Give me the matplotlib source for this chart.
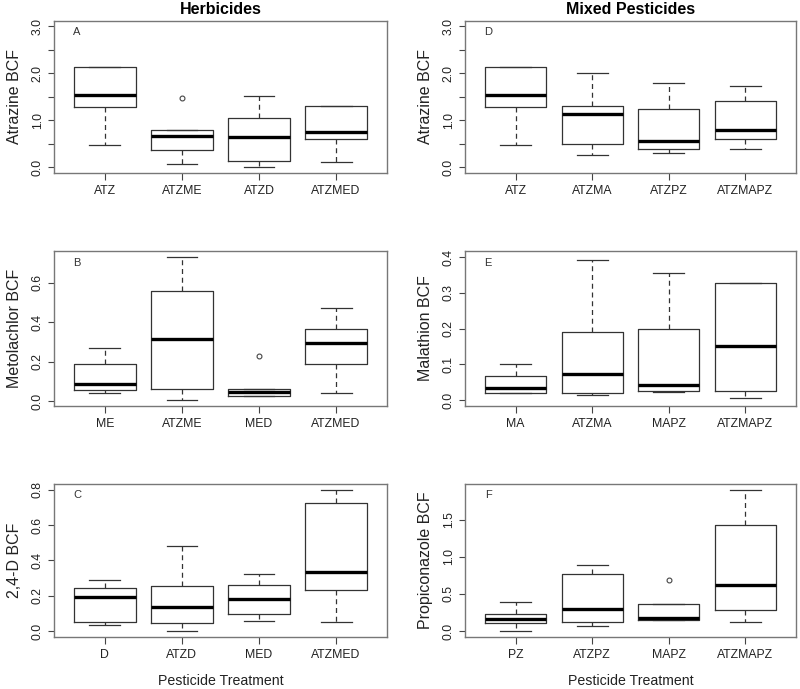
import numpy as np
import matplotlib
matplotlib.use("Agg")
import matplotlib.pyplot as plt

plt.rcParams['font.family'] = ['Liberation Sans', 'DejaVu Sans']

# ---- data (BCF box statistics) ----
# panel A: herbicides, atrazine
a_labels = ["ATZ", "ATZME", "ATZD", "ATZMED"]
a_lo = [0.47, 0.056, 0.007, 0.106]
a_q1 = [1.27, 0.367, 0.134, 0.60]
a_med = [1.545, 0.67, 0.635, 0.75]
a_q3 = [2.13, 0.79, 1.04, 1.30]
a_hi = [2.13, 0.79, 1.51, 1.30]
a_out = [[], [1.475], [], []]

# panel B: herbicides, metolachlor
b_labels = ["ME", "ATZME", "MED", "ATZMED"]
b_lo = [0.042, 0.005, 0.024, 0.042]
b_q1 = [0.054, 0.063, 0.027, 0.186]
b_med = [0.086, 0.312, 0.044, 0.295]
b_q3 = [0.185, 0.559, 0.063, 0.366]
b_hi = [0.268, 0.73, 0.063, 0.471]
b_out = [[], [], [0.229], []]

# panel C: herbicides, 2,4-D
c_labels = ["D", "ATZD", "MED", "ATZMED"]
c_lo = [0.036, 0.0, 0.057, 0.049]
c_q1 = [0.053, 0.0435, 0.0946, 0.231]
c_med = [0.193, 0.134, 0.180, 0.335]
c_q3 = [0.242, 0.257, 0.259, 0.722]
c_hi = [0.291, 0.482, 0.325, 0.80]
c_out = [[], [], [], []]

# panel D: mixed pesticides, atrazine
d_labels = ["ATZ", "ATZMA", "ATZPZ", "ATZMAPZ"]
d_lo = [0.47, 0.26, 0.30, 0.395]
d_q1 = [1.27, 0.494, 0.38, 0.59]
d_med = [1.545, 1.13, 0.55, 0.79]
d_q3 = [2.13, 1.31, 1.23, 1.40]
d_hi = [2.13, 2.0, 1.79, 1.72]
d_out = [[], [], [], []]

# panel E: mixed pesticides, malathion
e_labels = ["MA", "ATZMA", "MAPZ", "ATZMAPZ"]
e_lo = [0.020, 0.015, 0.023, 0.0065]
e_q1 = [0.020, 0.0206, 0.026, 0.024]
e_med = [0.033, 0.072, 0.042, 0.150]
e_q3 = [0.066, 0.189, 0.198, 0.328]
e_hi = [0.101, 0.393, 0.354, 0.328]
e_out = [[], [], [], []]

# panel F: mixed pesticides, propiconazole
f_labels = ["PZ", "ATZPZ", "MAPZ", "ATZMAPZ"]
f_lo = [0.0, 0.072, 0.148, 0.121]
f_q1 = [0.112, 0.117, 0.148, 0.288]
f_med = [0.162, 0.292, 0.171, 0.615]
f_q3 = [0.234, 0.764, 0.359, 1.429]
f_hi = [0.391, 0.885, 0.359, 1.905]
f_out = [[], [], [0.687], []]


def make_stats(lo, q1, med, q3, hi, out):
    return [dict(whislo=lo[i], q1=q1[i], med=med[i], q3=q3[i], whishi=hi[i],
                 fliers=out[i]) for i in range(len(med))]


def r_pad(lo, hi):
    # R-style 4% axis extension
    d = (hi - lo) * 0.04
    return lo - d, hi + d


W, H = 800, 689
fig = plt.figure(figsize=(W / 100, H / 100), dpi=100)


def add_panel(l, t, r, b):
    return fig.add_axes([l / W, 1 - b / H, (r - l) / W, (b - t) / H])


panels = [
    # stats, labels, ylabel, letter, ylim, ticks, ticklabels, box px
    (make_stats(a_lo, a_q1, a_med, a_q3, a_hi, a_out), a_labels, "Atrazine BCF", "A",
     (0, 3.0), [0, 0.5, 1, 1.5, 2, 2.5, 3], ["0.0", "", "1.0", "", "2.0", "", "3.0"],
     (54, 20.7, 387, 172.7)),
    (make_stats(b_lo, b_q1, b_med, b_q3, b_hi, b_out), b_labels, "Metolachlor BCF", "B",
     (0.005, 0.73), [0, 0.2, 0.4, 0.6], ["0.0", "0.2", "0.4", "0.6"],
     (54, 251.3, 387, 405.7)),
    (make_stats(c_lo, c_q1, c_med, c_q3, c_hi, c_out), c_labels, "2,4-D BCF", "C",
     (0.0, 0.8), [0, 0.2, 0.4, 0.6, 0.8], ["0.0", "0.2", "0.4", "0.6", "0.8"],
     (54, 484, 387, 636.7)),
    (make_stats(d_lo, d_q1, d_med, d_q3, d_hi, d_out), d_labels, "Atrazine BCF", "D",
     (0, 3.0), [0, 0.5, 1, 1.5, 2, 2.5, 3], ["0.0", "", "1.0", "", "2.0", "", "3.0"],
     (465, 20.7, 796, 172.7)),
    (make_stats(e_lo, e_q1, e_med, e_q3, e_hi, e_out), e_labels, "Malathion BCF", "E",
     (0, 0.4), [0, 0.1, 0.2, 0.3, 0.4], ["0.0", "0.1", "0.2", "0.3", "0.4"],
     (465, 251.3, 796, 405.7)),
    (make_stats(f_lo, f_q1, f_med, f_q3, f_hi, f_out), f_labels, "Propiconazole BCF", "F",
     (0.0, 1.905), [0, 0.5, 1.0, 1.5], ["0.0", "0.5", "1.0", "1.5"],
     (465, 484, 796, 636.7)),
]

line_col = "#333333"
for stats, labels, ylab, letter, ylim, ticks, tlabels, box in panels:
    ax = add_panel(*box)
    ax.bxp(stats, positions=[1, 2, 3, 4], widths=0.8, capwidths=0.4,
           showfliers=True,
           boxprops=dict(color=line_col, linewidth=0.9),
           whiskerprops=dict(color=line_col, linewidth=0.9, linestyle=(0, (4, 3))),
           capprops=dict(color=line_col, linewidth=0.9),
           medianprops=dict(color="black", linewidth=2.4, solid_capstyle="butt"),
           flierprops=dict(marker="o", markersize=3.5, markerfacecolor="none",
                           markeredgecolor="#444444", markeredgewidth=0.8))
    ax.set_xlim(0.34, 4.66)
    ax.set_ylim(*r_pad(*ylim))
    ax.set_xticks([1, 2, 3, 4])
    ax.set_xticklabels(labels, fontsize=8.8, color="#222222")
    ax.set_yticks(ticks)
    ax.set_yticklabels(tlabels, rotation=90, va="center", fontsize=8.8, color="#222222")
    ax.tick_params(axis="y", length=4.3, width=0.8, color="#444444", pad=3)
    ax.tick_params(axis="x", length=5, width=0.8, color="#444444", pad=4)
    for s in ax.spines.values():
        s.set_color("#777777")
        s.set_linewidth(1.0)
    ax.set_ylabel(ylab, fontsize=11.5, color="#222222", labelpad=7)
    ax.text(23 / (box[2] - box[0]), 1 - 11.5 / (box[3] - box[1]), letter,
            transform=ax.transAxes, ha="center", va="center", fontsize=8,
            color="#333333")

fig.text(220.5 / W, 1 - 9.5 / H, "Herbicides", ha="center", va="center",
         fontsize=11.5, fontweight="bold")
fig.text(630.5 / W, 1 - 9.5 / H, "Mixed Pesticides", ha="center", va="center",
         fontsize=11.5, fontweight="bold")
fig.text(220.5 / W, 1 - 681 / H, "Pesticide Treatment", ha="center", va="center",
         fontsize=10.2, color="#222222")
fig.text(630.5 / W, 1 - 681 / H, "Pesticide Treatment", ha="center", va="center",
         fontsize=10.2, color="#222222")

fig.savefig("out.png", dpi=100)
